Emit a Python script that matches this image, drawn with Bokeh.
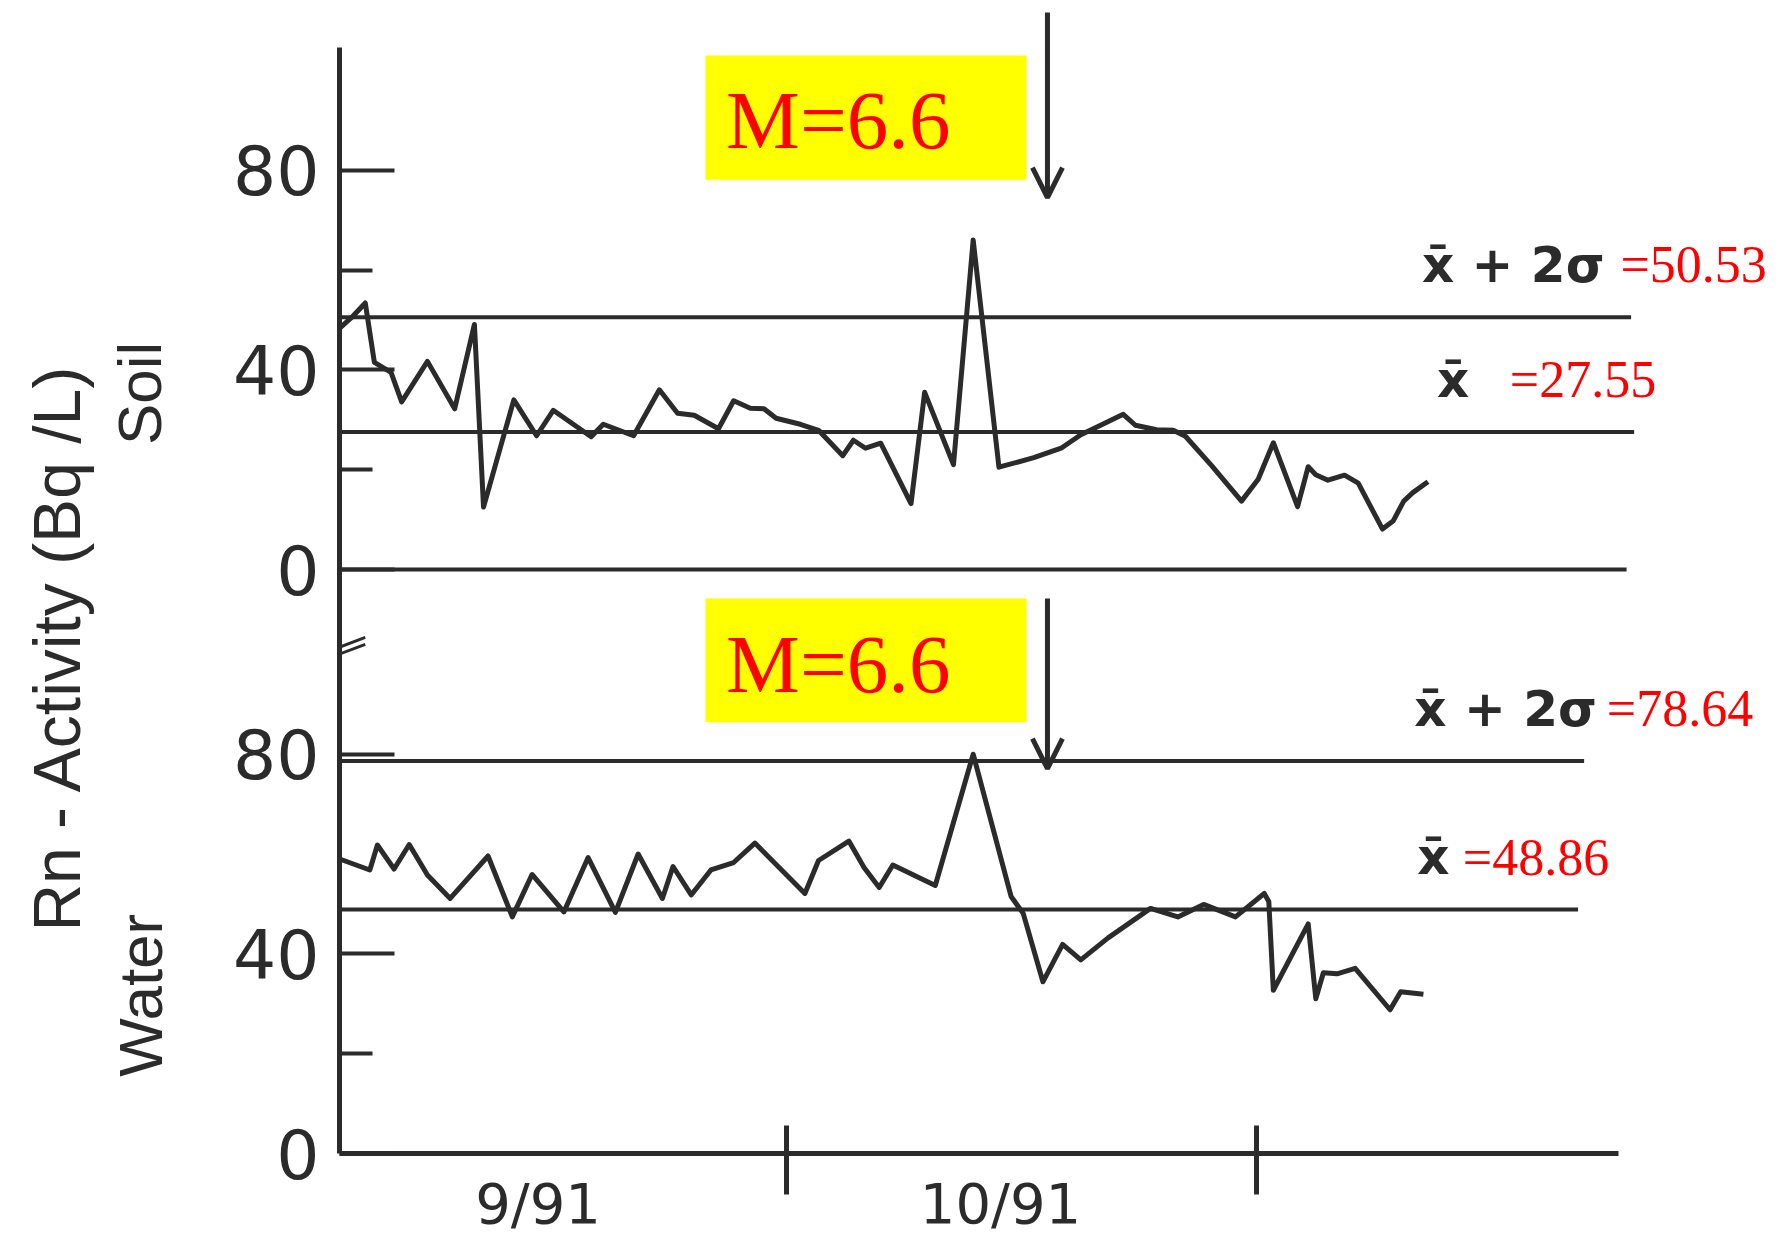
from math import pi
from bokeh.plotting import figure
from bokeh.layouts import row
from bokeh.models import Range1d, FixedTicker, Label, BoxAnnotation, Arrow, OpenHead
from bokeh.embed import file_html
from bokeh.resources import INLINE

# ---------------- data ----------------
# days since 1 Sept 1991
SOIL_DAYS = [0.5, 1.3, 2.2, 2.8, 3.9, 4.6, 6.3, 8.1, 9.4, 10.0,
             12.0, 13.5, 14.6, 17.1, 17.9, 19.9, 21.6, 22.8, 23.9, 25.5,
             26.5, 27.6, 28.5, 29.3, 30.9, 32.1, 33.7, 34.4, 35.2, 36.2,
             38.2, 39.1, 41.0, 42.3, 44.0, 46.3, 48.1, 49.4, 50.5, 52.2,
             53.0, 54.4, 55.5, 56.3, 58.0, 60.0, 61.1, 62.1, 63.7, 64.4,
             64.9, 65.7, 66.8, 67.7, 69.3, 70.0, 70.7, 71.3, 72.3]
SOIL_VALUES = [48.3, 50.5, 53.4, 41.5, 39.5, 33.6, 41.7, 32.2, 49.1, 12.5,
               34.0, 26.8, 31.9, 26.6, 29.1, 26.8, 36.0, 31.3, 30.9, 28.2,
               33.8, 32.3, 32.2, 30.3, 29.1, 27.9, 22.8, 25.9, 24.3, 25.3,
               13.2, 35.5, 21.0, 66.0, 20.5, 22.4, 24.3, 27.0, 28.6, 31.1,
               28.9, 28.0, 27.9, 26.7, 20.9, 13.7, 18.1, 25.4, 12.6, 20.6,
               19.0, 17.9, 18.9, 17.3, 8.1, 9.7, 13.7, 15.4, 17.6]

WATER_DAYS = [0.6, 2.5, 3.0, 4.1, 5.1, 6.3, 7.8, 10.3, 11.9, 13.2,
              15.3, 16.9, 18.7, 20.2, 21.8, 22.5, 23.7, 25.0, 26.5, 27.9,
              31.2, 32.1, 34.1, 35.1, 36.1, 37.0, 39.8, 42.3, 44.8, 45.6,
              46.9, 48.2, 49.4, 51.2, 54.0, 55.8, 57.5, 59.6, 61.5, 61.8,
              62.1, 64.4, 64.9, 65.4, 66.3, 67.5, 69.8, 70.5, 72.0]
WATER_VALUES = [58.9, 56.8, 61.8, 57.0, 61.9, 55.8, 51.1, 59.6, 47.4, 55.9,
                48.4, 59.3, 48.3, 60.0, 51.1, 57.5, 51.8, 56.8, 58.3, 62.2,
                52.1, 58.7, 62.6, 57.3, 53.3, 57.8, 53.7, 80.0, 51.5, 48.1,
                34.4, 41.9, 38.8, 43.2, 49.1, 47.4, 49.9, 47.4, 52.1, 50.5,
                32.7, 46.0, 31.0, 36.2, 36.0, 37.1, 28.8, 32.4, 31.9]

SOIL_MEAN, SOIL_2SIGMA = 27.55, 50.53
WATER_MEAN, WATER_2SIGMA = 48.86, 78.64

Y_TICK_VALUES = [0, 40, 80]
Y_TICK_LABELS = ["0", "40", "80"]
SOIL_MINOR_TICKS = [20, 60]
WATER_MINOR_TICKS = [20]

MONTH_LABELS = ["9/91", "10/91"]
MONTH_LABEL_DAYS = [13.6, 44.1]
MONTH_START_DAYS = [30, 61]

QUAKE_DAY = 47.2
QUAKE_TEXT = "M=6.6"

TITLE = "Rn - Activity (Bq /L)"
PANEL_NAMES = ["Soil", "Water"]

# ---------------- layout constants ----------------
SOIL_OFFSET = 117          # soil panel is drawn above the water panel
Y_TOP = 231.0
X_START, X_END = 0.5, 95.62
INK = "#2b2b2b"
RED = "#ff0000"
STRIP_W = 200

y_range = Range1d(0, Y_TOP)

# ---------------- left strip with the rotated titles ----------------
strip = figure(width=STRIP_W, height=1238, output_backend="svg", toolbar_location=None,
               x_range=Range1d(0, STRIP_W), y_range=y_range, min_border=0)
strip.axis.visible = False
strip.grid.visible = False
strip.outline_line_color = None
for x, y, txt, size in [(56, 101.4, TITLE, "66px"),
                        (139, 152.3, PANEL_NAMES[0], "62px"),
                        (140, 31.7, PANEL_NAMES[1], "62px")]:
    strip.add_layout(Label(x=x, y=y, text=txt, angle=pi / 2, text_font="Liberation Sans",
                           text_font_size=size, text_color=INK, text_align="center",
                           text_baseline="middle"))

# ---------------- main chart ----------------
p = figure(width=1781 - STRIP_W, height=1238, output_backend="svg", toolbar_location=None,
           x_range=Range1d(X_START, X_END), y_range=y_range,
           min_border_left=339 - STRIP_W, min_border_right=0, min_border_top=0,
           min_border_bottom=81)
p.xgrid.visible = False
p.ygrid.visible = False
p.outline_line_color = None

# ---- y axis (both panels on one axis) ----
yt = list(Y_TICK_VALUES) + [v + SOIL_OFFSET for v in Y_TICK_VALUES]
yl = Y_TICK_LABELS + Y_TICK_LABELS
ya = p.yaxis[0]
ya.ticker = FixedTicker(ticks=yt,
                        minor_ticks=WATER_MINOR_TICKS + [v + SOIL_OFFSET for v in SOIL_MINOR_TICKS])
ya.major_label_overrides = {t: l for t, l in zip(yt, yl)}
ya.bounds = (0, 221.6)
ya.axis_line_width = 5
ya.axis_line_color = INK
ya.major_tick_in = 55
ya.major_tick_out = 0
ya.minor_tick_in = 33
ya.minor_tick_out = 0
ya.major_tick_line_width = 4
ya.minor_tick_line_width = 4
ya.major_tick_line_color = INK
ya.minor_tick_line_color = INK
ya.major_label_standoff = 20
ya.major_label_text_font = "DejaVu Sans"
ya.major_label_text_font_size = "68px"
ya.major_label_text_color = INK

# ---- x axis ----
xa = p.xaxis[0]
xa.ticker = FixedTicker(ticks=MONTH_LABEL_DAYS, minor_ticks=MONTH_START_DAYS)
xa.major_label_overrides = {t: l for t, l in zip(MONTH_LABEL_DAYS, MONTH_LABELS)}
xa.bounds = (X_START, 84.9)
xa.axis_line_width = 5
xa.axis_line_color = INK
xa.major_tick_in = 0
xa.major_tick_out = 0
xa.minor_tick_in = 28
xa.minor_tick_out = 41
xa.minor_tick_line_width = 5
xa.minor_tick_line_color = INK
xa.major_label_standoff = -24
xa.major_label_text_font = "DejaVu Sans"
xa.major_label_text_font_size = "56px"
xa.major_label_text_color = INK

# ---- reference lines ----
REF_Y = [SOIL_OFFSET, SOIL_OFFSET + SOIL_MEAN, SOIL_OFFSET + SOIL_2SIGMA, WATER_MEAN, WATER_2SIGMA]
REF_END = [85.4, 85.9, 85.7, 82.2, 82.6]
p.segment(x0=[X_START] * len(REF_Y), y0=REF_Y, x1=REF_END, y1=REF_Y,
          line_width=4, line_color=INK)

# ---- series ----
p.line(SOIL_DAYS, [v + SOIL_OFFSET for v in SOIL_VALUES], line_width=5,
       line_color=INK, line_join="round")
p.line(WATER_DAYS, WATER_VALUES, line_width=5, line_color=INK, line_join="round")

# ---- axis break mark ----
p.segment(x0=[-1.3, -1.3], y0=[98.0, 99.4], x1=[2.2, 2.2], y1=[102.0, 103.4],
          line_width=3, line_color=INK)

# ---- earthquake boxes and arrows ----
for top, bottom, txt_y, a0, a1 in [(220.0, 195.1, 207.0, 228.6, 191.5),
                                   (111.2, 86.4, 98.0, 111.2, 77.1)]:
    p.add_layout(BoxAnnotation(left=24.64, right=45.82, top=top, bottom=bottom,
                               fill_color="#ffff00", fill_alpha=1.0, line_color=None))
    p.add_layout(Label(x=26.0, y=txt_y, text=QUAKE_TEXT, text_font="Liberation Serif",
                       text_font_size="83px", text_color=RED, text_baseline="alphabetic"))
    p.add_layout(Arrow(end=OpenHead(size=30, line_width=5, line_color=INK),
                       x_start=QUAKE_DAY, y_start=a0, x_end=QUAKE_DAY, y_end=a1,
                       line_width=5, line_color=INK))

# ---- reference line labels ----
GAP = 10.5
labels = [
    (71.9, SOIL_OFFSET + SOIL_2SIGMA, "x\u0304 + 2\u03c3", 85.0, f"={SOIL_2SIGMA:.2f}"),
    (72.9, SOIL_OFFSET + SOIL_MEAN, "x\u0304", 77.7, f"={SOIL_MEAN:.2f}"),
    (71.4, WATER_2SIGMA, "x\u0304 + 2\u03c3", 84.1, f"={WATER_2SIGMA:.2f}"),
    (71.6, WATER_MEAN, "x\u0304", 74.6, f"={WATER_MEAN:.2f}"),
]
for bx, ly, btxt, rx, rtxt in labels:
    p.add_layout(Label(x=bx, y=ly + GAP, text=btxt, text_font="DejaVu Sans",
                       text_font_style="bold", text_font_size="50px", text_color=INK,
                       text_baseline="alphabetic"))
    p.add_layout(Label(x=rx, y=ly + GAP, text=rtxt, text_font="Liberation Serif",
                       text_font_size="52px", text_color=RED, text_baseline="alphabetic"))

open("out.html", "w").write(file_html(row(strip, p), INLINE))
